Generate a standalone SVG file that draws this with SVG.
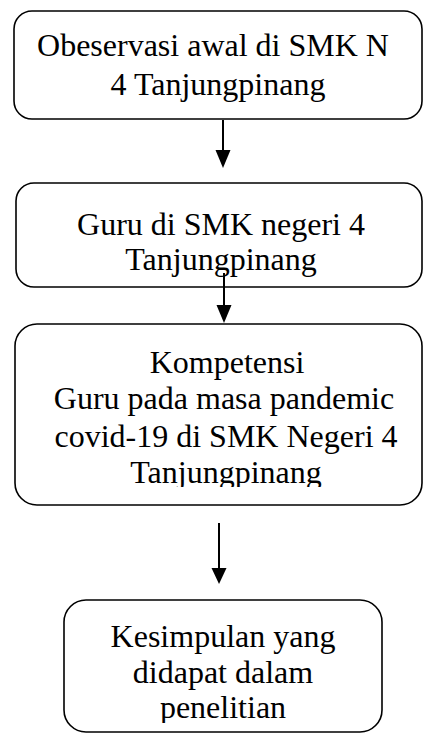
<svg xmlns="http://www.w3.org/2000/svg" width="424" height="734" viewBox="0 0 424 734">
<style>
.box{fill:#fff;stroke:#000;stroke-width:1.6}
.t{font-family:"Liberation Serif","Times New Roman",serif;font-size:32px;fill:#000;text-anchor:middle}
.ln{stroke:#000;stroke-width:2;fill:none}
.hd{fill:#000}
</style>
<defs>
<clipPath id="c3"><rect x="0" y="324" width="424" height="163"/></clipPath>
<clipPath id="c4"><rect x="0" y="600" width="424" height="123"/></clipPath>
</defs>
<rect width="424" height="734" fill="#fff"/>
<g id="n1">
<rect class="box" x="14" y="11" width="408" height="108" rx="18"/>
<text class="t" x="213" y="56">Obeservasi awal di SMK N</text>
<text class="t" x="218" y="95">4 Tanjungpinang</text>
</g>
<g id="n2">
<rect class="box" x="16" y="183" width="406" height="104" rx="18"/>
<text class="t" x="221" y="235">Guru di SMK negeri 4</text>
<text class="t" x="221" y="270">Tanjungpinang</text>
</g>
<g id="n3">
<rect class="box" x="15" y="324" width="407" height="181" rx="22"/>
<g clip-path="url(#c3)">
<text class="t" x="227" y="373">Kompetensi</text>
<text class="t" x="224" y="409">Guru pada masa pandemic</text>
<text class="t" x="226" y="447">covid-19 di SMK Negeri 4</text>
<text class="t" x="226" y="483">Tanjungpinang</text>
</g>
</g>
<g id="n4">
<rect class="box" x="64" y="600" width="318" height="132" rx="22"/>
<g clip-path="url(#c4)">
<text class="t" x="223" y="647">Kesimpulan yang</text>
<text class="t" x="223" y="683">didapat dalam</text>
<text class="t" x="223" y="718">penelitian</text>
</g>
</g>
<g id="connectors">
<line class="ln" x1="223" y1="120" x2="223" y2="152"/>
<polygon class="hd" points="215.5,150 230.5,150 223,168"/>
<line class="ln" x1="224" y1="273" x2="224" y2="307"/>
<polygon class="hd" points="216.5,305 231.5,305 224,323"/>
<line class="ln" x1="219" y1="523" x2="219" y2="570"/>
<polygon class="hd" points="211.5,568 226.5,568 219,584"/>
</g>
</svg>
